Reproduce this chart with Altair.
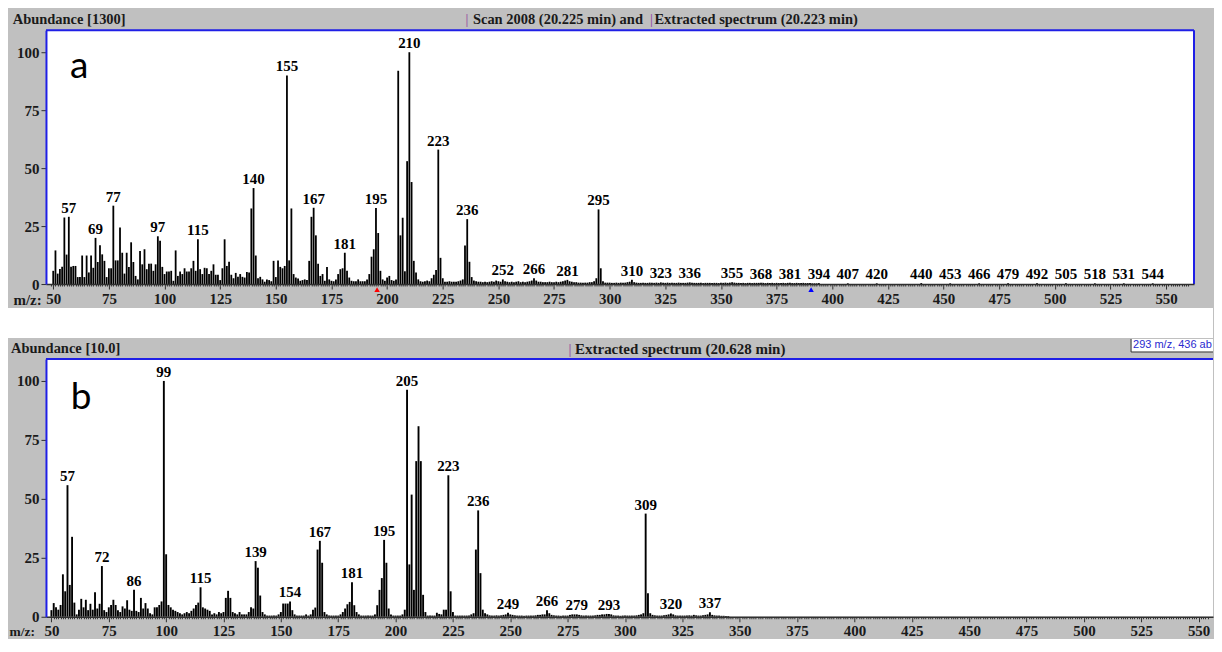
import altair as alt
import pandas as pd

# ---------------- data ----------------
# spectrum a : m/z and relative abundance
mz_a = list(range(50, 395)) + [407, 420, 440, 453, 466, 479, 492, 505, 518, 531, 544]
ab_a = [
    5.7, 14.5, 4.5, 6.5, 7.5, 28.7, 12.7, 29, 7.5, 7.8,
    7.8, 3, 3, 12.3, 3, 12.3, 5, 12.3, 7, 19.9,
    9.5, 16.7, 12.8, 10, 3, 6.8, 6.8, 33.8, 10.2, 10.2,
    24.4, 13.5, 4.5, 13.5, 7.4, 18, 9.5, 3.5, 2, 14.2,
    8.5, 15, 6.4, 8.8, 8.8, 5.7, 8.5, 20.6, 18.7, 7.4,
    4.3, 5.4, 5.4, 5.7, 1.4, 14.5, 3.5, 5.4, 4.3, 6.8,
    5.4, 5.4, 6.8, 10, 5.7, 19.3, 6.4, 4.3, 7, 6.8,
    4.3, 5.7, 8.5, 4, 4, 1.7, 6.8, 19.3, 7.8, 9.6,
    4, 2.5, 4.8, 3.1, 4.3, 3.1, 2.8, 5.2, 5, 32.6,
    41.4, 12.3, 2.5, 3.1, 2, 1, 2, 1.7, 1.2, 10,
    3, 10.2, 7.4, 6.8, 7.8, 90, 10.2, 32.6, 4.3, 2.8,
    2.4, 1.4, 1.7, 2, 1.7, 10, 29, 32.9, 21, 8.8,
    3.5, 4.3, 1.4, 7.4, 2, 1.4, 1.2, 2, 4.3, 6.4,
    6.8, 13.5, 5.7, 2.8, 1.4, 1.2, 1.2, 2, 1.2, 1.2,
    1.2, 2, 4.3, 11.8, 15, 32.8, 22, 5.7, 2, 1.4,
    2.8, 3.5, 1.7, 1.4, 2, 92, 21, 28.6, 5.5, 53,
    100, 44, 10, 5, 2, 1.2, 1, 1.2, 1.5, 1.2,
    2.5, 4, 6, 58, 11.3, 2.5, 1, 1, 1.2, 1,
    1, 1, 1.2, 1.5, 2, 16.6, 28, 9.6, 3, 1.5,
    1.2, 1, 1, 0.8, 1, 0.8, 1, 1.2, 1, 1.5,
    1.2, 1, 2, 1.2, 1, 0.8, 1, 0.8, 1, 1.2,
    0.8, 1, 0.8, 1, 1.2, 1.5, 2.5, 1.5, 1, 1,
    0.8, 0.8, 0.8, 1, 0.8, 0.8, 1, 0.8, 1, 1.2,
    1.5, 1.8, 1.2, 1, 0.8, 0.8, 0.6, 0.6, 0.6, 0.6,
    0.6, 0.8, 0.8, 1.2, 2.5, 32.2, 6.8, 1.2, 0.6, 0.6,
    0.6, 0.5, 0.5, 0.6, 0.5, 0.6, 0.5, 0.6, 0.8, 1.0,
    1.8, 0.8, 0.6, 0.5, 0.5, 0.6, 0.5, 0.5, 0.6, 0.5,
    0.5, 0.6, 0.5, 0.7, 0.5, 0.5, 0.6, 0.5, 0.5, 0.5,
    0.5, 0.6, 0.5, 0.5, 0.5, 0.6, 0.7, 0.5, 0.5, 0.5,
    0.5, 0.5, 0.4, 0.5, 0.5, 0.5, 0.4, 0.5, 0.5, 0.4,
    0.5, 0.5, 0.6, 0.5, 0.6, 0.8, 0.6, 0.5, 0.5, 0.4,
    0.5, 0.4, 0.5, 0.5, 0.4, 0.5, 0.5, 0.5, 0.6, 0.5,
    0.4, 0.5, 0.4, 0.5, 0.4, 0.5, 0.4, 0.4, 0.5, 0.4,
    0.5, 0.6, 0.4, 0.4, 0.5, 0.4, 0.4, 0.5, 0.4, 0.4,
    0.4, 0.3, 0.3, 0.3, 0.4,
    0.3, 0.3, 0.4, 0.3, 0.3, 0.3, 0.3, 0.3, 0.3, 0.3, 0.3,
]
labels_a = [57, 69, 77, 97, 115, 140, 155, 167, 181, 195, 210, 223, 236, 252,
            266, 281, 295, 310, 323, 336, 355, 368, 381, 394, 407, 420, 440,
            453, 466, 479, 492, 505, 518, 531, 544]
marker_mz_a = [195.5, 390.5]
marker_col_a = ["#ff0000", "#0000ff"]

# spectrum b
mz_b = list(range(50, 346))
ab_b = [
    2.8, 5.8, 4, 3, 5, 18, 10.8, 55.8, 13.5, 33.9,
    6, 1, 3, 7.6, 4, 7.2, 2.8, 5.5, 3, 10.4,
    3.5, 5.5, 21.5, 2.8, 2, 4, 5, 7.2, 5, 2.8,
    2, 4.4, 3.5, 7, 3, 2.5, 11.5, 2.5, 2, 8,
    3.5, 5.8, 3.5, 1.5, 1, 4, 4, 5, 6.5, 100,
    26.5, 5, 4, 3, 2.5, 2, 1.5, 1, 1.5, 2,
    1.5, 2.5, 3.5, 5, 6, 12.5, 4, 3.5, 3, 2.5,
    1, 1.5, 1, 2, 1.5, 2, 8, 11, 8, 2,
    1.5, 1, 2, 1, 1, 1, 2, 4, 3.5, 23.6,
    20.8, 9, 2, 1, 0.5, 0.5, 0.5, 0.5, 0.5, 1,
    2, 5.6, 5.6, 5.6, 6.5, 2.8, 1, 0.5, 0.5, 0.5,
    0.5, 1, 0.5, 1, 3, 3.9, 28.5, 32.2, 22.9, 2,
    1, 0.5, 0.5, 0.5, 0.5, 0.5, 1, 2, 3.5, 5.3,
    6.3, 14.6, 4.9, 2, 1, 0.5, 0.5, 0.5, 0.5, 0.5,
    0.5, 1, 4.9, 11.4, 16.4, 32.6, 22.9, 3.5, 1, 0.5,
    0.5, 0.5, 0.5, 1, 3, 96.25, 22.2, 51.8, 11.4, 66,
    80.8, 66, 9.3, 2, 0.5, 0.5, 0.5, 0.5, 1.7, 1.2,
    1, 3, 3, 60, 10.8, 2, 0.5, 0.5, 0.5, 0.5,
    0.5, 0.5, 0.5, 1, 1.5, 28.5, 45.1, 18.5, 3, 1.5,
    1, 0.6, 0.5, 0.5, 0.6, 0.5, 0.6, 0.8, 1, 1.7,
    1, 0.8, 0.6, 0.5, 0.5, 0.5, 0.4, 0.5, 0.5, 0.5,
    0.5, 0.6, 0.8, 0.8, 1, 1, 2.8, 1.5, 0.8, 0.6,
    0.5, 0.5, 0.4, 0.5, 0.5, 0.5, 0.8, 1, 1, 1,
    0.8, 0.6, 0.5, 0.5, 0.5, 0.5, 0.5, 0.6, 0.8, 0.8,
    1, 1, 1.2, 1.2, 1, 0.6, 0.5, 0.5, 0.4, 0.5,
    0.5, 0.5, 0.5, 0.5, 0.5, 0.6, 0.8, 1, 1.5, 43.75,
    10, 1.5, 0.8, 0.6, 0.5, 0.5, 0.5, 0.6, 0.8, 1,
    1.4, 1, 0.6, 0.5, 0.5, 0.5, 0.5, 0.5, 0.6, 0.5,
    0.8, 0.6, 0.5, 0.5, 0.6, 0.8, 1, 1.9, 0.8, 0.6,
    0.5, 0.5, 0.4, 0.4, 0.3, 0.3,
]
labels_b = [57, 72, 86, 99, 115, 139, 154, 167, 181, 195, 205, 223, 236, 249,
            266, 279, 293, 309, 320, 337]

y_ticks = [0, 25, 50, 75, 100]

# ---------------- styling ----------------
SERIF = "Liberation Serif"
BLUE = "#1f1fe6"
PURPLE = "#8e3a9e"
GRAY = "#c0c0c0"
INK = "#1a1a1a"
ONE = pd.DataFrame({"k": [0]})
RIGHT = 1168  # right edge of the canvas, relative to the plot's left edge


def txt(text, x, y, size, color=INK, font=SERIF, weight="bold",
        align="left", baseline="middle"):
    return alt.Chart(ONE).mark_text(
        text=text, font=font, fontWeight=weight, fontSize=size, color=color,
        align=align, baseline=baseline
    ).encode(x=alt.value(x), y=alt.value(y))


def box(x1, x2, y1, y2, color):
    return alt.Chart(ONE).mark_rect(color=color).encode(
        x=alt.value(x1), x2=alt.value(x2), y=alt.value(y1), y2=alt.value(y2))


def rule(x1, x2, y1, y2, color, width):
    return alt.Chart(ONE).mark_rule(color=color, strokeWidth=width).encode(
        x=alt.value(x1), x2=alt.value(x2), y=alt.value(y1), y2=alt.value(y2))


def spectrum(mz, ab, labels, xdom, ydom, tick_vals, bar_w):
    spec = pd.DataFrame({"mz": mz, "ab": ab})
    lut = dict(zip(mz, ab))
    lab = pd.DataFrame({"mz": labels, "ab": [lut[m] for m in labels],
                        "t": [str(m) for m in labels]})
    x = alt.X("mz:Q", scale=alt.Scale(domain=xdom, nice=False, zero=False),
              axis=alt.Axis(
                  title=None, values=tick_vals, grid=False,
                  labelExpr="datum.value % 25 === 0 ? datum.label : ''",
                  labelOverlap=False, labelFlush=False, labelBound=False,
                  labelFont=SERIF, labelFontWeight="bold", labelFontSize=15,
                  labelColor=INK, labelPadding=2,
                  tickSize={"condition": {"test": "datum.value % 25 === 0", "value": 5},
                            "value": 2},
                  tickColor="#303030", tickWidth=1,
                  domainColor="#303030", domainWidth=1.5, zindex=1))
    y = alt.Y("ab:Q", scale=alt.Scale(domain=ydom, nice=False, zero=False),
              axis=alt.Axis(
                  title=None, values=y_ticks, grid=False,
                  labelFont=SERIF, labelFontWeight="bold", labelFontSize=15,
                  labelColor=INK, labelPadding=2, tickSize=5,
                  tickColor="#303030", domainColor=BLUE, domainWidth=2, zindex=1))
    bars = alt.Chart(spec).mark_bar(width=bar_w, color="black").encode(x=x, y=y)
    text = alt.Chart(lab).mark_text(
        font=SERIF, fontWeight="bold", fontSize=15, color="black",
        baseline="alphabetic", dy=-4
    ).encode(x=x, y=y, text="t:N")
    return x, bars, text


# ---------------- panel a ----------------
WA, HA = 1149, 254
xa, bars_a, text_a = spectrum(mz_a, ab_a, labels_a, [48.98, 560.3],
                              [0, 109.48], list(range(49, 561)), 1.8)
markers_a = alt.Chart(pd.DataFrame({"mz": marker_mz_a, "c": marker_col_a})).mark_point(
    shape="triangle-up", filled=True, size=30, opacity=1
).encode(x=xa, y=alt.value(HA + 5.5), color=alt.Color("c:N", scale=None))

panel_a = alt.layer(
    box(-38, -37, -22, -21, GRAY),
    box(-38, RIGHT, HA + 24, HA + 54, "white"),
    bars_a, text_a, markers_a,
    rule(0, WA, 0, 0, BLUE, 2),
    rule(WA, WA, 0, HA, BLUE, 2),
    txt("Abundance [1300]", -33.3, -10, 14.5),
    txt("|", 420, -10, 14.5, color=PURPLE, weight="normal"),
    txt("Scan 2008 (20.225 min) and", 427.3, -10, 14.5),
    txt("|", 604.5, -10, 14.5, color=PURPLE, weight="normal"),
    txt("Extracted spectrum (20.223 min)", 609, -10, 14.5),
    txt("a", 24, 48, 37, color="black", font="Lato", weight="normal",
        baseline="alphabetic"),
    txt("m/z:", -4.3, HA + 16, 15, align="right"),
).properties(width=WA, height=HA)

# ---------------- panel b ----------------
WB, HB = RIGHT, 258
xb, bars_b, text_b = spectrum(mz_b, ab_b, labels_b, [49.8, 554.1],
                              [0, 109.32], list(range(50, 555)), 1.9)

panel_b = alt.layer(
    box(-38, -37, -20, -19, GRAY),
    box(-38, -37, HB + 21, HB + 22, GRAY),
    bars_b, text_b,
    rule(0, WB, 0, 0, BLUE, 2),
    txt("Abundance [10.0]", -35, -10, 14.5),
    txt("|", 523, -10, 15, color=PURPLE, weight="normal"),
    txt("Extracted spectrum (20.628 min)", 529.5, -10, 15),
    box(1086, RIGHT, -20, -7, "white"),
    rule(1086, 1086, -20, -7, "#303030", 1),
    rule(1086, RIGHT, -7, -7, "#303030", 1),
    txt("293 m/z, 436 ab", 1088, -13.5, 11, color="#2a2ad0",
        font="Liberation Sans", weight="normal"),
    txt("b", 24.7, 50, 37, color="black", font="Lato", weight="normal",
        baseline="alphabetic"),
    txt("m/z:", -11, HB + 15, 13.5, align="right"),
).properties(width=WB, height=HB)

chart = alt.vconcat(panel_a, panel_b, spacing=0).properties(
    background=GRAY, padding=0
).configure_view(fill="white", strokeWidth=0)

chart.save("out.html", embed_options={"renderer": "svg", "actions": False})
